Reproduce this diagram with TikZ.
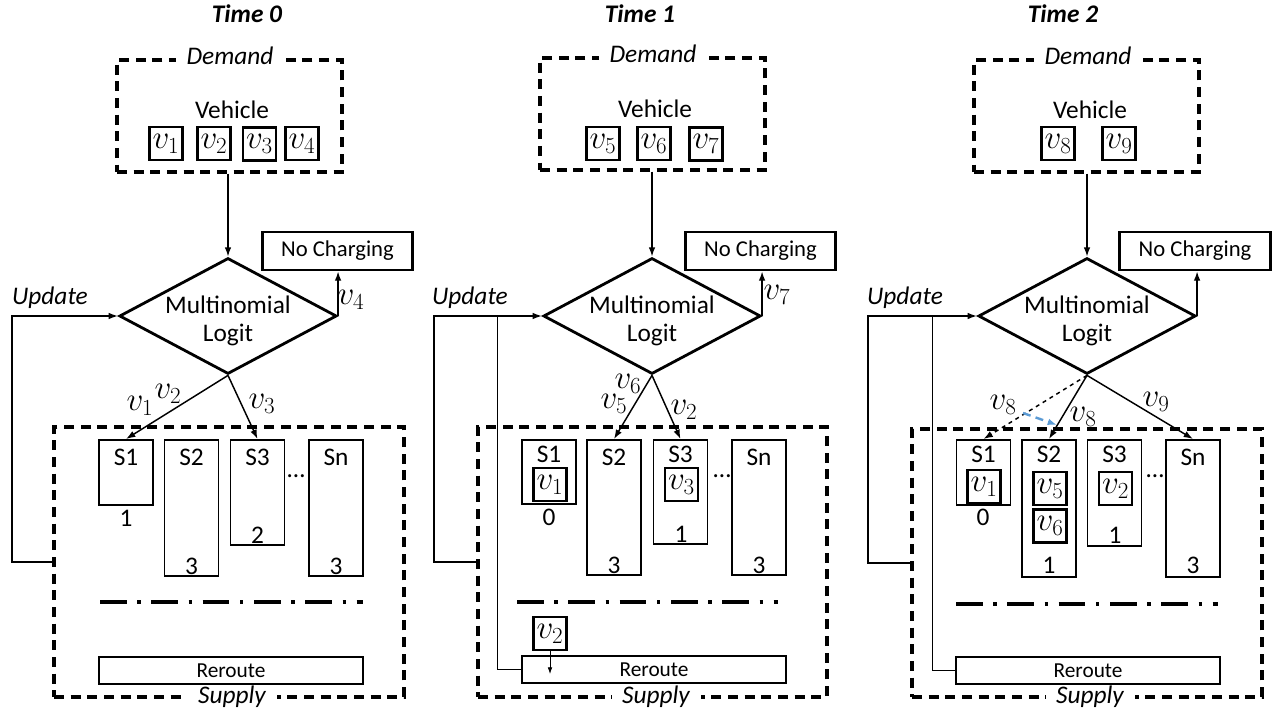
\documentclass[tikz,border=0pt]{standalone}
\usepackage{fontspec}
\setmainfont{Carlito}
\usetikzlibrary{shapes.geometric,arrows.meta}

\tikzset{every picture/.style={line width=0.75pt}}
\tikzset{
  dashbox/.style={draw, line width=2.6pt, dash pattern=on 7.5pt off 5pt, minimum width=168.75pt, inner sep=0},
  tag/.style={fill=white, inner xsep=8pt, inner ysep=1pt, font=\fontsize{19}{21}\selectfont\itshape},
  vbox/.style={draw, line width=2.2pt, minimum size=24.75pt, inner sep=0, font=\fontsize{24}{26}\selectfont},
  vlab/.style={inner sep=1pt, font=\fontsize{23}{25}\selectfont},
  logit/.style={diamond, draw, line width=2.1pt, minimum width=163pt, minimum height=87pt, inner sep=0},
  nocharge/.style={draw, line width=2.1pt, minimum width=113pt, minimum height=28.5pt, inner sep=0, font=\fontsize{17}{19}\selectfont},
  station/.style={draw, line width=1.2pt, minimum width=40.5pt, anchor=north, inner sep=0},
  sname/.style={inner sep=0},
  reroute/.style={draw, line width=1.2pt, minimum width=198pt, minimum height=20.25pt, inner sep=0, font=\fontsize{16}{18}\selectfont},
  flow/.style={-{Latex[length=7pt,width=5pt]}, line width=1.1pt},
  sepline/.style={line width=2.4pt, dash pattern=on 20pt off 8pt on 2.5pt off 8pt},
}

\begin{document}
\begin{tikzpicture}[x=0.75pt,y=0.75pt,yscale=-1,xscale=1,font=\fontsize{19}{21}\selectfont]
\useasboundingbox (0,0) rectangle (1276,713);

%%%%%%%%%%%%%%%% Time 0 %%%%%%%%%%%%%%%%
\node[font=\fontsize{19}{21}\selectfont\bfseries\itshape] (tma) at (247,14) {Time 0};
%Shape: Rectangle (demand)
\node[dashbox, minimum height=84pt] (dema) at (229.5,116) {};
\node[tag] (dtaga) at (230,56) {Demand};
\node (veha) at (232,110) {Vehicle};
\node[vbox] (va1) at (166,143.5) {$v_1$};
\node[vbox] (va2) at (214,143.5) {$v_2$};
\node[vbox] (va3) at (259.5,144) {$v_3$};
\node[vbox] (va4) at (302,143.5) {$v_4$};
%Shape: Diamond
\node[logit, label={[align=center, yshift=-4pt]center:Multinomial\\Logit}] (mla) at (228,316) {};
\node[nocharge] (nca) at (337.5,251) {No Charging};
%Shape: Rectangle (supply)
\node[dashbox, minimum width=262.5pt, minimum height=202.5pt] (supa) at (229,562) {};
\node[tag] (stag a) at (232,697) {Supply};
\node[station, minimum height=48.75pt] (s1a) at (126,439) {};
\node[station, minimum height=102pt] (s2a) at (191.5,439) {};
\node[station, minimum height=78.75pt] (s3a) at (257.5,439) {};
\node[station, minimum height=102pt] (sna) at (336,439) {};
\node[sname] (s1ta) at (126,457) {S1};
\node[sname] (s2ta) at (191.5,457) {S2};
\node[sname] (s3ta) at (257.5,457) {S3};
\node[sname] (snta) at (336,457) {Sn};
\node (c1a) at (126,518) {1};
\node (c2a) at (191.5,566) {3};
\node (c3a) at (257.5,535) {2};
\node (cna) at (336,566) {3};
\node (dota) at (296,476) {\ldots};
\draw[sepline] (100,602) -- (363,602);
\node[reroute] (rra) at (231,670.5) {Reroute};
\node (upa) at (50,298) {\itshape Update};
\coordinate (fba) at (12,316);
%Connectors
\draw[flow] (mla.north |- dema.south) -- (mla.north);
\draw[flow] (mla.east) -- (mla.east |- nca.south);
\draw[flow] (supa.west) -| (fba) -- (mla.west);
\draw[flow] (mla.south) -- (s1a.north);
\draw[flow] (mla.south) -- (s3a.north);
\node[vlab] (la4) at (351,300) {$v_4$};
\node[vlab] (la1) at (140,406) {$v_1$};
\node[vlab] (la2) at (168,394) {$v_2$};
\node[vlab] (la3) at (262,404) {$v_3$};

%%%%%%%%%%%%%%%% Time 1 %%%%%%%%%%%%%%%%
\node[font=\fontsize{19}{21}\selectfont\bfseries\itshape] (tmb) at (640,14) {Time 1};
%Shape: Rectangle (demand)
\node[dashbox, minimum height=84pt] (demb) at (652.5,114) {};
\node[tag] (dtagb) at (653,54) {Demand};
\node (vehb) at (655,109) {Vehicle};
\node[vbox] (vb5) at (603,143.5) {$v_5$};
\node[vbox] (vb6) at (654,143.5) {$v_6$};
\node[vbox] (vb7) at (706,144) {$v_7$};
%Shape: Diamond
\node[logit, label={[align=center, yshift=-4pt]center:Multinomial\\Logit}] (mlb) at (652,316) {};
\node[nocharge] (ncb) at (760.5,251) {No Charging};
%Shape: Rectangle (supply)
\node[dashbox, minimum width=261.75pt, minimum height=202.5pt] (supb) at (652.5,562) {};
\node[tag] (stagb) at (656,697) {Supply};
\node[station, minimum height=48pt] (s1b) at (549,439) {};
\node[station, minimum height=101.25pt] (s2b) at (614,439) {};
\node[station, minimum height=78pt] (s3b) at (680.5,439) {};
\node[station, minimum height=101.25pt] (snb) at (759,439) {};
\node[sname] (s1tb) at (549,454) {S1};
\node[sname] (s2tb) at (614,457) {S2};
\node[sname] (s3tb) at (680.5,454) {S3};
\node[sname] (sntb) at (759,457) {Sn};
\node[vbox] (vb1) at (550,484.5) {$v_1$};
\node[vbox] (vb3) at (681.5,484.5) {$v_3$};
\node (c1b) at (549,517) {0};
\node (c2b) at (614,565) {3};
\node (c3b) at (681,534) {1};
\node (cnb) at (759,565) {3};
\node (dotb) at (722,476) {\ldots};
\draw[sepline] (517,602) -- (778,602);
\node[vbox] (vb2) at (550,633.5) {$v_2$};
\node[reroute] (rrb) at (654,669.5) {Reroute};
\coordinate (rrinb) at (550,674);
\node (upb) at (470,298) {\itshape Update};
\coordinate (fbb) at (434,316);
\coordinate (fbb2) at (497,316);
%Connectors
\draw[flow] (mlb.north |- demb.south) -- (mlb.north);
\draw[flow] (mlb.east) -- (mlb.east |- ncb.south);
\draw[flow] (supb.west) -| (fbb) -- (mlb.west);
\draw (rrb.west) -| (fbb2);
\draw[-{Latex[length=5pt,width=3.5pt]}, line width=0.6pt] (vb2.south) -- (rrinb);
\draw[flow] (mlb.south) -- (s2b.north);
\draw[flow] (mlb.south) -- (s3b.north);
\node[vlab] (lb7) at (777,295) {$v_7$};
\node[vlab] (lb6) at (628,384) {$v_6$};
\node[vlab] (lb5) at (614,404) {$v_5$};
\node[vlab] (lb2) at (684,410) {$v_2$};

%%%%%%%%%%%%%%%% Time 2 %%%%%%%%%%%%%%%%
\node[font=\fontsize{19}{21}\selectfont\bfseries\itshape] (tmc) at (1063,14) {Time 2};
%Shape: Rectangle (demand)
\node[dashbox, minimum height=84pt] (demc) at (1086.5,116) {};
\node[tag] (dtagc) at (1088,56) {Demand};
\node (vehc) at (1090,110) {Vehicle};
\node[vbox] (vc8) at (1058,143.5) {$v_8$};
\node[vbox] (vc9) at (1119,143.5) {$v_9$};
%Shape: Diamond
\node[logit, label={[align=center, yshift=-4pt]center:Multinomial\\Logit}] (mlc) at (1087,316) {};
\node[nocharge] (ncc) at (1195,251) {No Charging};
%Shape: Rectangle (supply)
\node[dashbox, minimum width=262.5pt, minimum height=201pt] (supc) at (1087,563) {};
\node[tag] (stagc) at (1090,697) {Supply};
\node[station, minimum height=48.75pt] (s1c) at (983.5,439) {};
\node[station, minimum height=102.75pt] (s2c) at (1049,439) {};
\node[station, minimum height=79.5pt] (s3c) at (1114.5,439) {};
\node[station, minimum height=102.75pt] (snc) at (1193,439) {};
\node[sname] (s1tc) at (983.5,454) {S1};
\node[sname] (s2tc) at (1049,454) {S2};
\node[sname] (s3tc) at (1114.5,454) {S3};
\node[sname] (sntc) at (1193,457) {Sn};
\node[vbox] (vc1) at (984,486.5) {$v_1$};
\node[vbox] (vc5) at (1050,488.5) {$v_5$};
\node[vbox] (vc6) at (1050,526) {$v_6$};
\node[vbox] (vc2) at (1115.5,488.5) {$v_2$};
\node (c1c) at (983,517) {0};
\node (c2c) at (1049,565) {1};
\node (c3c) at (1115,535) {1};
\node (cnc) at (1193,565) {3};
\node (dotc) at (1155,476) {\ldots};
\draw[sepline] (956,604) -- (1218,604);
\node[reroute] (rrc) at (1088,670.5) {Reroute};
\node (upc) at (905,298) {\itshape Update};
\coordinate (fbc) at (868,316);
\coordinate (fbc2) at (932,316);
\coordinate (mva) at (1023,413);
\coordinate (mvb) at (1057,425);
%Connectors
\draw[flow] (mlc.north |- demc.south) -- (mlc.north);
\draw[flow] (mlc.east) -- (mlc.east |- ncc.south);
\draw[flow] (supc.west) -| (fbc) -- (mlc.west);
\draw (rrc.west) -| (fbc2);
\draw[flow, dashed] (mlc.south) -- (s1c.north);
\draw[flow] (mlc.south) -- (s2c.north);
\draw[flow] (mlc.south) -- (snc.north);
\draw[-{Latex[length=7pt,width=5pt]}, line width=1.8pt, dash pattern=on 6pt off 4pt, color={rgb,255:red,91;green,155;blue,213}] (mva) -- (mvb);
\node[vlab] (lc8a) at (1003,405) {$v_8$};
\node[vlab] (lc8b) at (1083,417) {$v_8$};
\node[vlab] (lc9) at (1156,402) {$v_9$};

\end{tikzpicture}
\end{document}
